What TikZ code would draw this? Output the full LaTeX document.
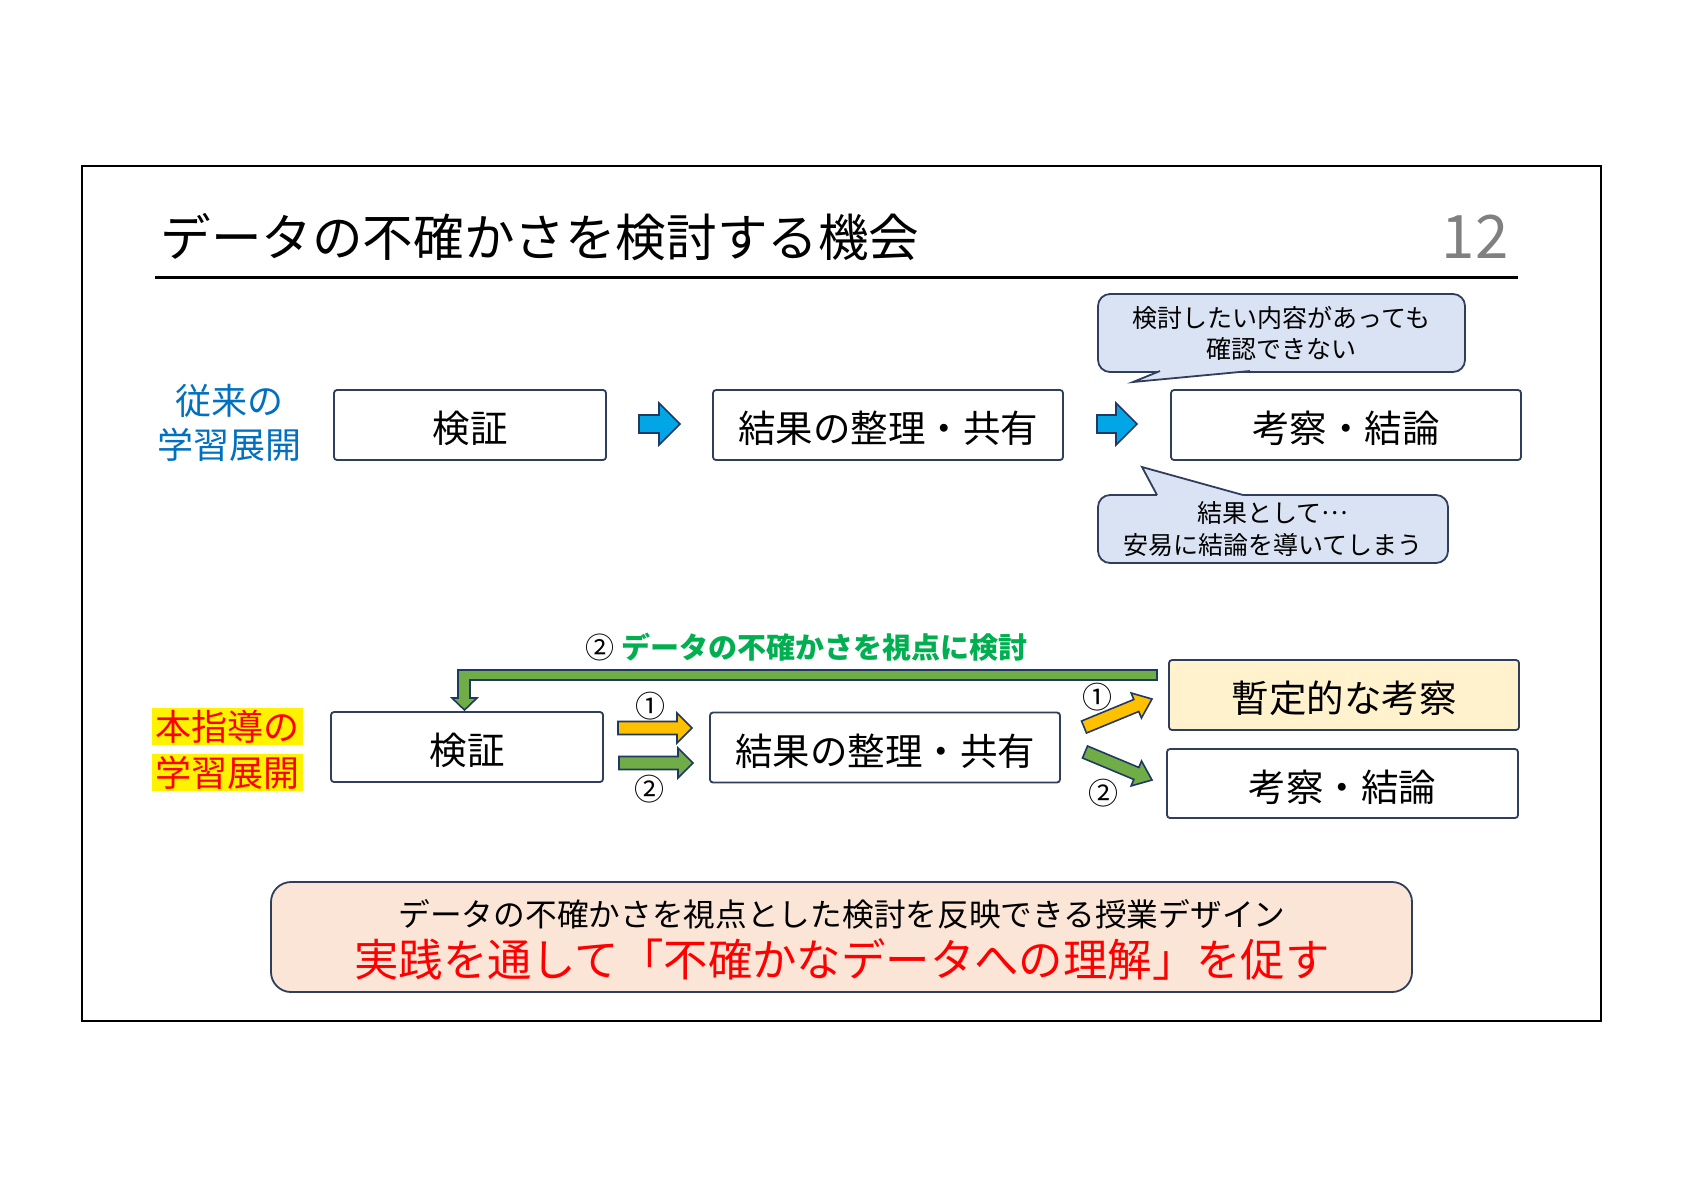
\documentclass[tikz,border=0pt]{standalone}
\usepackage{fontspec}
\setmainfont{Noto Sans CJK JP}
\usetikzlibrary{calc}
\definecolor{bordc}{RGB}{47,62,92}
\definecolor{arrbord}{RGB}{31,56,100}
\definecolor{arrblue}{RGB}{0,166,230}
\definecolor{arrorange}{RGB}{255,192,0}
\definecolor{arrgreen}{RGB}{112,173,71}
\definecolor{calfill}{RGB}{218,227,243}
\definecolor{banfill}{RGB}{251,229,214}
\definecolor{yelbox}{RGB}{255,242,204}
\definecolor{lblue}{RGB}{0,112,192}
\definecolor{lgreen}{RGB}{0,176,80}
\definecolor{numgray}{RGB}{128,128,128}
\newcommand\myblockarrow[6]{%
  \coordinate (ba-h) at ($(#3)!#6!(#2)$);
  \draw[#1] ($(#2)!#4!90:(#3)$) -- ($(ba-h)!#4!90:(#3)$) -- ($(ba-h)!#5!90:(#3)$)
    -- (#3) -- ($(ba-h)!#5!-90:(#3)$) -- ($(ba-h)!#4!-90:(#3)$) -- ($(#2)!#4!-90:(#3)$) -- cycle;
}
\begin{document}
\begin{tikzpicture}[x=0.5pt,y=-0.5pt,
  box/.style={draw=bordc, line width=0.9pt, rounded corners=1.5pt, fill=white, inner sep=0pt,
    font=\fontsize{18.75}{22}\selectfont, minimum height=35pt, text height=18.2pt, text depth=0.5pt},
  callout/.style={draw=bordc, line width=0.9pt, rounded corners=6pt, fill=calfill, inner sep=0pt, align=center},
  hl/.style={fill=yellow, text=red, inner sep=0pt, minimum width=75.5pt, minimum height=18.5pt,
    font=\fontsize{18}{22}\selectfont},
  num/.style={inner sep=0pt, font=\fontsize{15}{17}\selectfont},
  barr/.style={fill=arrblue, draw=arrbord, line width=0.8pt, line join=miter},
  oarr/.style={fill=arrorange, draw=arrbord, line width=0.8pt, line join=miter},
  garr/.style={fill=arrgreen, draw=arrbord, line width=0.8pt, line join=miter},
  ptr/.style={draw=bordc, line width=0.9pt, line join=miter}
]
\useasboundingbox (0,0) rectangle (1684,1190);
\fill[white] (0,0) rectangle (1684,1190);

% frame
\coordinate (fr1) at (82,166);
\coordinate (fr2) at (1601,1021);
\draw[line width=1pt] (fr1) rectangle (fr2);

% title
\node[anchor=west, inner sep=0pt, font=\fontsize{25.3}{30}\selectfont] (title) at (160,237) {データの不確かさを検討する機会};
\node[inner sep=0pt, text=numgray, font=\fontsize{30}{36}\selectfont] (pg) at (1475,237) {12};
\coordinate (rule1) at (155,277);
\coordinate (rule2) at (1518,277);
\draw[line width=1.5pt] (rule1) -- (rule2);

% upper row
\node[text=lblue, align=center, inner sep=0pt, font=\fontsize{18}{22}\selectfont] (lab1) at (229,423) {従来の\\学習展開};
\node[box, minimum width=136pt] (a1) at (470,425) {検証};
\node[box, minimum width=175pt] (a2) at (888,425) {結果の整理・共有};
\node[box, minimum width=175pt] (a3) at (1346,425) {考察・結論};
\coordinate (a1s) at (639,424);
\coordinate (a1e) at (680,424);
\coordinate (a2s) at (1097,424);
\coordinate (a2e) at (1137,424);
\myblockarrow{barr}{a1s}{a1e}{4.5pt}{10.5pt}{10.5pt}
\myblockarrow{barr}{a2s}{a2e}{4.5pt}{10.5pt}{10.5pt}

% callouts
\node[callout, minimum width=183.5pt, minimum height=39pt, font=\fontsize{12.5}{15.5}\selectfont] (c1) at (1281.5,333) {検討したい内容があっても\\確認できない};
\coordinate (c1tip) at (1133,382);
\fill[calfill] (1160,368) -- (1160,371) -- (c1tip) -- (1250,371) -- (1250,368) -- cycle;
\draw[ptr] (1160,371) -- (c1tip) -- (1250,371);

\node[callout, minimum width=175pt, minimum height=34pt, font=\fontsize{12.5}{16}\selectfont] (c2) at (1273,529) {結果として\raisebox{0.33em}{…}\\安易に結論を導いてしまう};
\coordinate (c2tip) at (1142,467);
\fill[calfill] (1157,498) -- (1157,495) -- (c2tip) -- (1243,495) -- (1243,498) -- cycle;
\draw[ptr] (1157,495) -- (c2tip) -- (1243,495);

% lower row
\node[hl] (lab2a) at (227.5,726.5) {本指導の};
\node[hl] (lab2b) at (227.5,772.5) {学習展開};
\node[box, minimum width=136pt] (b1) at (467,747) {検証};
\node[box, minimum width=175pt] (b2) at (885,747.5) {結果の整理・共有};
\node[box, minimum width=175pt, fill=yelbox] (b3) at (1344,695) {暫定的な考察};
\node[box, minimum width=175.5pt, minimum height=34.5pt] (b4) at (1342.5,783.5) {考察・結論};

\coordinate (o1s) at (618,728);
\coordinate (o1e) at (692,728);
\coordinate (g1s) at (619,763);
\coordinate (g1e) at (693,763);
\myblockarrow{oarr}{o1s}{o1e}{3.25pt}{7.5pt}{7.5pt}
\myblockarrow{garr}{g1s}{g1e}{3.25pt}{7.5pt}{7.5pt}
\node[num] (n1) at (650,706) {①};
\node[num] (n2) at (649,789) {②};

\coordinate (o2s) at (1084,727);
\coordinate (o2e) at (1152,699);
\coordinate (g2s) at (1085,752);
\coordinate (g2e) at (1152,780);
\myblockarrow{oarr}{o2s}{o2e}{3.25pt}{6.75pt}{8.5pt}
\myblockarrow{garr}{g2s}{g2e}{3.25pt}{6.75pt}{8.5pt}
\node[num] (n3) at (1097,697) {①};
\node[num] (n4) at (1103,793) {②};

% feedback arrow
\coordinate (fbs) at (1157,675);
\coordinate (fbtip) at (464.5,710);
\draw[garr] (1157,670) -- (458,670) -- (458,698) -- (452,698) -- (fbtip) -- (477,698) -- (470,698) -- (470,680) -- (1157,680) -- cycle;
\node[anchor=west, inner sep=0pt, text=lgreen, font=\fontsize{14.5}{17}\selectfont\bfseries] (fbl) at (585,647) {\textcolor{black}{\mdseries ②} データの不確かさを視点に検討};

% banner
\node[draw=bordc, line width=0.9pt, rounded corners=10pt, fill=banfill, minimum width=570.5pt, minimum height=55pt] (ban) at (841.5,937) {};
\node[inner sep=0pt, font=\fontsize{15.85}{19}\selectfont] (ban1) at (842,914) {データの不確かさを視点とした検討を反映できる授業デザイン};
\node[inner sep=0pt, text=red, font=\fontsize{22.2}{27}\selectfont] (ban2) at (842,959) {実践を通して「不確かなデータへの理解」を促す};
\end{tikzpicture}
\end{document}
